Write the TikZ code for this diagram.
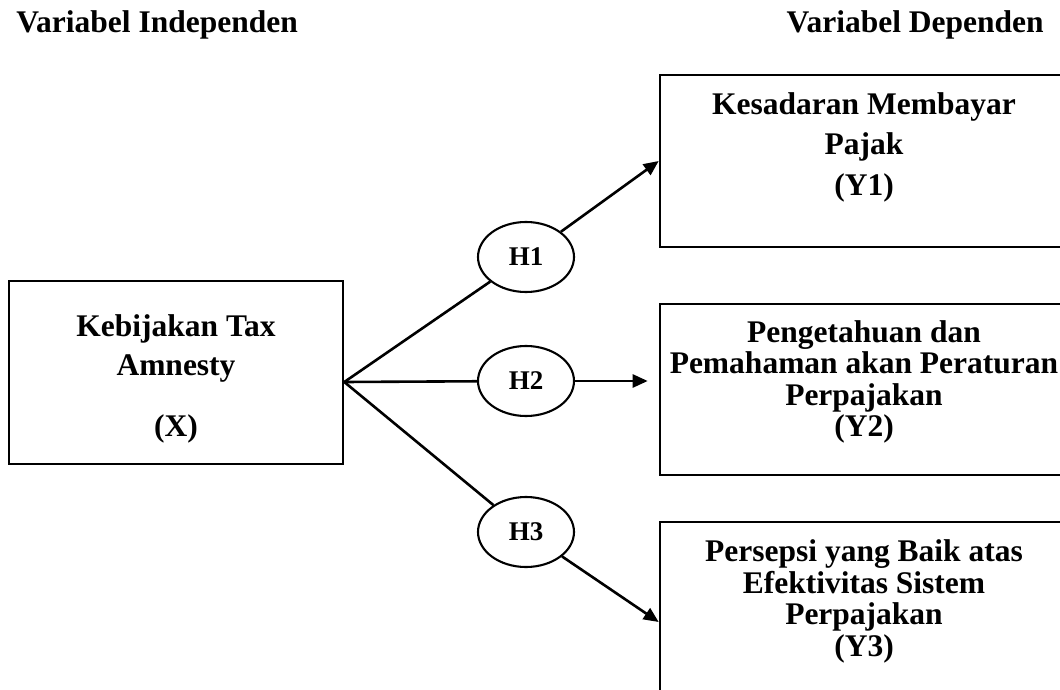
\documentclass[tikz,border=0pt]{standalone}
\usepackage{fontspec}
\setmainfont{Liberation Serif}
\usetikzlibrary{shapes.geometric, arrows.meta, positioning}
\def\varfont{\bfseries\fontsize{31.5}{31.5}\selectfont}
\def\hypfont{\bfseries\fontsize{27}{27}\selectfont}

\begin{document}
\begin{tikzpicture}[x=1pt, y=-1pt, line width=2.6pt,
	varbox/.style={draw, rectangle, minimum width=408pt, inner sep=0},
	vartext/.style={font=\varfont, align=center, inner sep=0},
	hypo/.style={draw, ellipse, line width=2.1pt, minimum width=96pt, minimum height=70pt, inner sep=0, font=\hypfont},
	arr/.style={-{Triangle[length=15pt, width=13pt]}}]
	\useasboundingbox (0,0) rectangle (1060,690);
	% headers
	\node[vartext, anchor=base west] (indep) at (15,33) {Variabel Independen};
	\node[vartext, anchor=base east] (dep) at (1045,33) {Variabel Dependen};
	% boxes
	\node[varbox, minimum width=334pt, minimum height=183pt] (x) at (176,372.5) {};
	\node[varbox, minimum height=172pt] (y1) at (864,161) {};
	\node[varbox, minimum height=171pt] (y2) at (864,389.5) {};
	\node[varbox, minimum height=200pt] (y3) at (864,622) {};
	% box texts
	\node[vartext, font=\bfseries\fontsize{31.5}{39}\selectfont, below=34pt of x.north] (xtext) {Kebijakan Tax\\Amnesty\\[22pt](X)};
	\node[vartext, font=\bfseries\fontsize{31.5}{40.5}\selectfont, below=17.5pt of y1.north] (y1text) {Kesadaran Membayar\\Pajak\\(Y1)};
	\node[vartext, below=16.5pt of y2.north] (y2text) {Pengetahuan dan\\Pemahaman akan Peraturan\\Perpajakan\\(Y2)};
	\node[vartext, font=\bfseries\fontsize{31.5}{31.7}\selectfont, below=17.5pt of y3.north] (y3text) {Persepsi yang Baik atas\\Efektivitas Sistem\\Perpajakan\\(Y3)};
	% hypotheses
	\node[hypo] (h1) at (526,257) {H1};
	\node[hypo] (h2) at (526,381) {H2};
	\node[hypo] (h3) at (526,532) {H3};
	\coordinate (fan) at ([yshift=-9.5pt]x.east);
	\draw (fan) -- (h1);
	\draw[arr] (h1) -- (y1.west);
	\draw (fan) -- (h2);
	\draw[arr, shorten >=11pt] (h2) -- (h2 -| y2.west);
	\draw (fan) -- (h3);
	\draw[arr] (h3) -- (y3.west);
\end{tikzpicture}
\end{document}
